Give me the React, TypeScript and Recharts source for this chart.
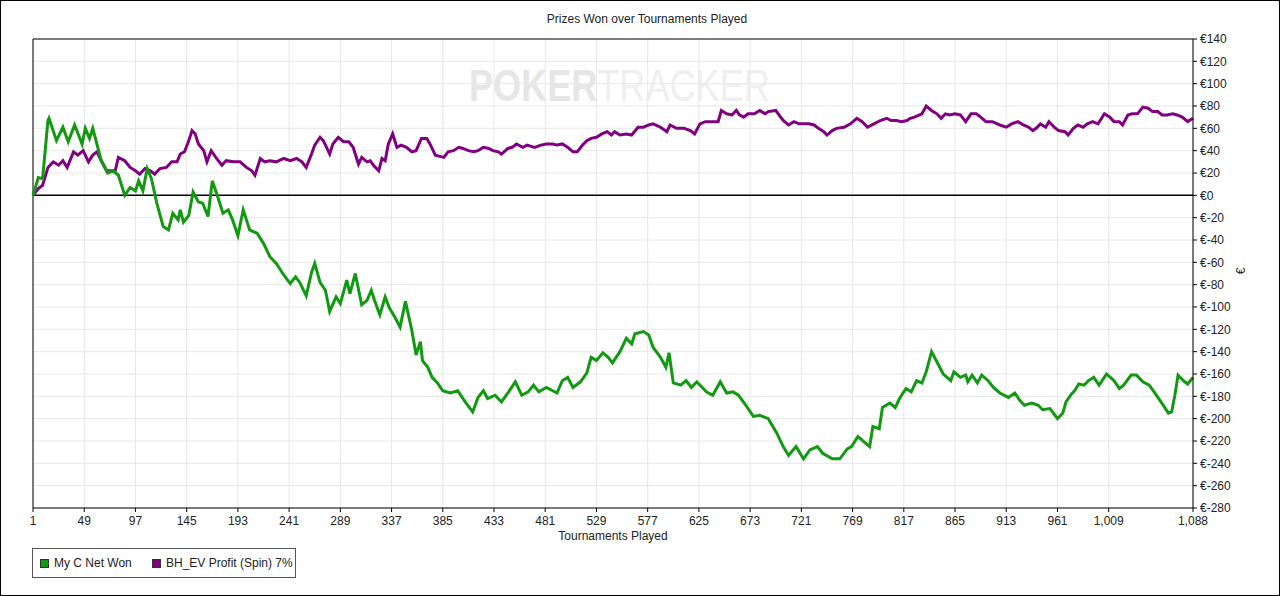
import React from 'react';
import { LineChart, Line, XAxis, YAxis, CartesianGrid, ReferenceLine } from 'recharts';

// tournament numbers where each series was sampled, with the running totals
const netWonGames = [
    1, 6, 10, 15, 16, 23, 29, 34, 40, 47, 50, 54, 57, 65, 71, 76, 81, 87, 92, 97,
    100, 104, 108, 112, 117, 123, 128, 132, 137, 139, 142, 147, 151, 156, 160, 165, 169, 174, 179, 184,
    188, 193, 198, 204, 211, 217, 223, 229, 235, 242, 247, 251, 257, 262, 265, 270, 275, 279, 285, 289,
    295, 298, 303, 309, 314, 318, 321, 326, 331, 335, 340, 345, 350, 356, 360, 364, 366, 371, 375, 380,
    385, 392, 399, 406, 413, 418, 423, 427, 434, 440, 446, 453, 459, 465, 470, 475, 482, 488, 492, 497,
    502, 507, 514, 520, 524, 529, 535, 540, 544, 551, 557, 562, 565, 573, 578, 582, 589, 594, 597, 601,
    608, 613, 618, 623, 632, 638, 645, 651, 657, 662, 669, 676, 682, 690, 698, 704, 709, 716, 723, 729,
    736, 741, 750, 757, 764, 768, 774, 780, 785, 788, 794, 797, 804, 809, 813, 819, 824, 829, 834, 838,
    843, 848, 854, 861, 864, 870, 875, 877, 881, 886, 890, 896, 901, 907, 915, 921, 926, 930, 937, 943,
    947, 954, 961, 966, 969, 974, 977, 981, 986, 990, 995, 1000, 1007, 1014, 1019, 1023, 1030, 1035, 1041, 1047,
    1053, 1058, 1065, 1068, 1071, 1074, 1079, 1083, 1088,
];
const netWonValues = [
    0, 16, 15, 67, 69, 49, 61, 48, 63, 46, 60, 51, 60, 31, 20, 22, 18, 0, 7, 4,
    13, 4, 24, 15, -7, -28, -31, -16, -22, -13, -24, -18, 3, -6, -7, -19, 13, -1, -16, -13,
    -22, -36, -13, -31, -34, -43, -55, -61, -70, -79, -73, -78, -90, -69, -61, -78, -85, -104, -91, -97,
    -76, -88, -70, -98, -94, -85, -94, -107, -91, -101, -109, -118, -95, -121, -143, -131, -148, -154, -163, -168,
    -175, -177, -175, -185, -194, -181, -175, -182, -179, -185, -177, -167, -179, -176, -170, -176, -172, -175, -177, -166,
    -163, -172, -167, -159, -145, -148, -141, -145, -150, -140, -128, -133, -124, -122, -125, -136, -145, -154, -141, -168,
    -170, -166, -172, -167, -176, -179, -167, -177, -176, -179, -188, -198, -197, -200, -213, -225, -233, -225, -236, -228,
    -225, -231, -236, -236, -227, -225, -216, -221, -225, -207, -209, -190, -186, -190, -182, -173, -176, -166, -168, -158,
    -140, -149, -160, -166, -158, -163, -161, -167, -161, -168, -161, -166, -172, -177, -181, -177, -184, -188, -186, -188,
    -192, -191, -200, -195, -185, -178, -175, -169, -170, -166, -163, -170, -160, -166, -173, -170, -161, -161, -167, -170,
    -178, -185, -195, -194, -179, -161, -166, -169, -163,
];

const evGames = [
    1, 6, 10, 15, 20, 25, 29, 33, 39, 43, 48, 53, 57, 61, 65, 70, 75, 78, 81, 87,
    92, 97, 101, 106, 111, 115, 120, 126, 131, 136, 139, 143, 147, 150, 153, 156, 161, 164, 168, 173,
    178, 182, 189, 195, 201, 206, 209, 214, 218, 223, 229, 236, 242, 248, 253, 257, 262, 265, 270, 273,
    279, 282, 287, 292, 297, 301, 306, 309, 314, 317, 320, 325, 328, 331, 334, 338, 342, 346, 351, 356,
    360, 365, 370, 373, 378, 386, 390, 395, 400, 404, 409, 414, 418, 423, 428, 432, 437, 440, 446, 450,
    454, 460, 464, 471, 477, 482, 488, 492, 497, 502, 507, 511, 516, 520, 524, 529, 534, 539, 543, 546,
    551, 557, 562, 568, 573, 578, 582, 589, 595, 598, 604, 611, 617, 621, 626, 631, 638, 643, 646, 651,
    656, 660, 663, 667, 671, 677, 682, 687, 690, 697, 700, 704, 709, 714, 719, 723, 728, 733, 737, 742,
    745, 750, 754, 761, 767, 773, 778, 783, 789, 795, 801, 805, 810, 815, 820, 823, 827, 834, 838, 843,
    848, 852, 856, 860, 865, 870, 875, 880, 885, 889, 894, 900, 907, 913, 918, 924, 929, 934, 938, 941,
    945, 950, 953, 958, 962, 968, 971, 976, 980, 985, 989, 994, 999, 1005, 1010, 1014, 1019, 1022, 1027, 1031,
    1036, 1041, 1046, 1050, 1055, 1059, 1064, 1069, 1073, 1078, 1083, 1088,
];
const evValues = [
    0, 6, 9, 25, 30, 27, 31, 25, 39, 36, 40, 30, 36, 39, 31, 22, 22, 22, 34, 31,
    25, 22, 19, 24, 22, 19, 24, 25, 30, 30, 37, 39, 49, 58, 55, 46, 40, 30, 40, 33,
    27, 31, 30, 30, 25, 22, 18, 33, 30, 31, 30, 33, 31, 33, 30, 25, 37, 45, 52, 49,
    37, 46, 52, 48, 48, 43, 28, 34, 30, 31, 27, 22, 33, 31, 46, 55, 43, 45, 43, 39,
    40, 51, 51, 46, 36, 34, 39, 40, 43, 42, 40, 39, 40, 43, 42, 40, 39, 37, 42, 43,
    46, 43, 45, 43, 45, 46, 46, 45, 46, 43, 39, 39, 45, 49, 51, 52, 55, 57, 54, 57,
    54, 55, 54, 61, 61, 63, 64, 61, 57, 63, 60, 60, 58, 55, 64, 66, 66, 66, 76, 73,
    72, 76, 72, 70, 73, 73, 76, 73, 75, 76, 72, 67, 63, 66, 64, 64, 64, 63, 60, 57,
    54, 58, 60, 61, 64, 69, 66, 61, 64, 67, 69, 67, 67, 66, 67, 69, 70, 73, 80, 76,
    73, 69, 73, 72, 73, 72, 66, 73, 73, 70, 66, 66, 63, 61, 64, 66, 63, 61, 58, 60,
    64, 61, 66, 61, 58, 57, 54, 60, 63, 61, 64, 66, 64, 73, 70, 66, 66, 63, 72, 73,
    73, 79, 78, 75, 75, 72, 72, 73, 72, 70, 66, 69,
];

const xTicks = [1, 49, 97, 145, 193, 241, 289, 337, 385, 433, 481, 529, 577, 625, 673, 721, 769, 817, 865, 913, 961, 1009, 1088];
const yTicks = [140, 120, 100, 80, 60, 40, 20, 0, -20, -40, -60, -80, -100, -120, -140, -160, -180, -200, -220, -240, -260, -280];

const FONT = '"Liberation Sans", Arial, sans-serif';
const GREEN = '#129912';
const PURPLE = '#800080';

const netWonData = netWonGames.map((t, i) => ({ t, v: netWonValues[i] }));
const evData = evGames.map((t, i) => ({ t, v: evValues[i] }));

const LegendItem = ({ color, label, left }: { color: string; label: string; left: number }) => (
    <div style={{ position: 'absolute', left, top: 0, height: 28, display: 'flex', alignItems: 'center' }}>
        <span style={{ width: 9, height: 9, background: color, border: '1px solid #333', boxSizing: 'border-box', marginRight: 5 }} />
        <span>{label}</span>
    </div>
);

export default function App() {
    return (
        <div style={{ position: 'relative', width: 1280, height: 596, background: '#fff', fontFamily: FONT, overflow: 'hidden' }}>
            <style>{'body{margin:0}'}</style>
            {/* faint watermark behind the plot */}
            <div style={{ position: 'absolute', left: 469, top: 61, fontSize: 44, whiteSpace: 'nowrap', transform: 'scaleX(0.82)', transformOrigin: 'left top' }}>
                <span style={{ fontWeight: 'bold', color: '#e6e6e6' }}>POKER</span>
                <span style={{ color: '#efefef' }}>TRACKER</span>
            </div>
            <div style={{ position: 'absolute', left: 0, top: 0 }}>
                <LineChart width={1280} height={596} margin={{ top: 39, right: 27, bottom: 58, left: 33 }}>
                    <CartesianGrid stroke="#e8e8e8" strokeWidth={1} />
                    <XAxis
                        dataKey="t"
                        type="number"
                        domain={[1, 1088]}
                        ticks={xTicks}
                        interval={0}
                        allowDuplicatedCategory={false}
                        tickFormatter={(v: number) => v.toLocaleString('en-US')}
                        height={30}
                        stroke="#000"
                        tickSize={4}
                        tickMargin={4}
                        tick={{ fill: '#222', fontSize: 12, fontFamily: FONT }}
                    />
                    <YAxis
                        orientation="right"
                        type="number"
                        domain={[-280, 140]}
                        ticks={yTicks}
                        interval={0}
                        width={60}
                        stroke="#000"
                        tickSize={4}
                        tickMargin={3}
                        tickFormatter={(v: number) => `€${v}`}
                        tick={{ fill: '#222', fontSize: 12, fontFamily: FONT }}
                    />
                    <ReferenceLine y={140} stroke="#555" strokeWidth={1.5} />
                    <ReferenceLine x={1} stroke="#000" strokeWidth={1} />
                    <ReferenceLine y={0} stroke="#000" strokeWidth={1.5} />
                    <Line data={evData} dataKey="v" name="BH_EV Profit (Spin) 7%" stroke={PURPLE} strokeWidth={3} dot={false} isAnimationActive={false} />
                    <Line data={netWonData} dataKey="v" name="My C Net Won" stroke={GREEN} strokeWidth={3} dot={false} isAnimationActive={false} />
                </LineChart>
            </div>
            <div style={{ position: 'absolute', left: 0, width: 1294, top: 12, textAlign: 'center', fontSize: 12, color: '#222' }}>
                Prizes Won over Tournaments Played
            </div>
            <div style={{ position: 'absolute', left: 33, width: 1160, top: 529, textAlign: 'center', fontSize: 12, color: '#222' }}>
                Tournaments Played
            </div>
            <div style={{ position: 'absolute', left: 1238, top: 264, fontSize: 12, color: '#222', transform: 'rotate(-90deg)' }}>€</div>
            <div style={{ position: 'absolute', left: 32, top: 548, width: 264, height: 30, border: '1px solid #555', boxSizing: 'border-box', fontSize: 12, color: '#222' }}>
                <LegendItem color={GREEN} label="My C Net Won" left={7} />
                <LegendItem color={PURPLE} label="BH_EV Profit (Spin) 7%" left={119} />
            </div>
            <div style={{ position: 'absolute', inset: 0, border: '1px solid #000', pointerEvents: 'none' }} />
        </div>
    );
}
